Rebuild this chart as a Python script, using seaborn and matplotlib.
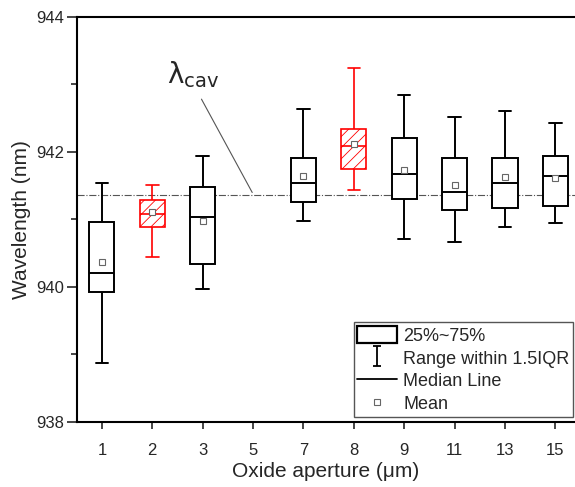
import numpy as np
import pandas as pd
import seaborn as sns
import matplotlib.pyplot as plt
from matplotlib.patches import Patch
from matplotlib.lines import Line2D
from matplotlib.path import Path

# aperture axis order (5 um has no data)
apertures = ['1', '2', '3', '5', '7', '8', '9', '11', '13', '15']
measured = ['1', '2', '3', '7', '8', '9', '11', '13', '15']
red_apertures = ['2', '8']

# box statistics (nm)
whisker_low = [938.87, 940.44, 939.96, 940.98, 941.44, 940.70, 940.67, 940.88, 940.95]
q1 = [939.92, 940.89, 940.34, 941.26, 941.74, 941.30, 941.14, 941.17, 941.20]
median = [940.20, 941.08, 941.04, 941.54, 942.08, 941.67, 941.40, 941.54, 941.64]
q3 = [940.96, 941.28, 941.48, 941.90, 942.34, 942.21, 941.90, 941.90, 941.93]
whisker_high = [941.54, 941.50, 941.94, 942.63, 943.24, 942.84, 942.51, 942.60, 942.43]
mean = [940.37, 941.10, 940.97, 941.64, 942.11, 941.73, 941.51, 941.62, 941.61]

lambda_cav = 941.36

sns.set_theme(style='ticks')
plt.rcParams['font.family'] = ['Liberation Sans', 'DejaVu Sans']
plt.rcParams['hatch.linewidth'] = 0.6
plt.rcParams['hatch.color'] = 'red'

# long form: the five summary values per aperture
df = pd.DataFrame({
    'aperture': np.repeat(measured, 5),
    'wavelength': np.column_stack([whisker_low, q1, median, q3, whisker_high]).ravel(),
})
df_mean = pd.DataFrame({'aperture': measured, 'wavelength': mean})

fig = plt.figure(figsize=(5.75, 4.87), dpi=100)
ax = fig.add_axes([0.1334, 0.134, 0.8666, 0.8317])

black = df[~df['aperture'].isin(red_apertures)]
red = df[df['aperture'].isin(red_apertures)]

sns.boxplot(data=black, x='aperture', y='wavelength', order=apertures, whis=(0, 100),
            width=0.5, color='white', linecolor='black', linewidth=1.4, showfliers=False, ax=ax)
n_before = len(ax.patches)
sns.boxplot(data=red, x='aperture', y='wavelength', order=apertures, whis=(0, 100),
            width=0.5, color='white', linecolor='red', linewidth=1.2, showfliers=False, ax=ax)
for p in ax.patches[n_before:]:
    p.set_facecolor('none')
    p.set_edgecolor('red')
    p.set_hatch('///')

sns.pointplot(data=df_mean, x='aperture', y='wavelength', order=apertures, linestyle='none',
              marker='s', markersize=4, markerfacecolor='white', markeredgecolor='#666666',
              markeredgewidth=0.8, errorbar=None, zorder=5, ax=ax)

ax.axhline(lambda_cav, color='#555555', ls='-.', lw=0.8, zorder=0)
ax.annotate('', xy=(3.01, lambda_cav), xytext=(1.95, 942.815),
            arrowprops=dict(arrowstyle='-', color='#555555', lw=0.8))
ax.text(1.29, 943.02, r'$\mathrm{\lambda}_{\mathrm{cav}}$', fontsize=20, ha='left', va='baseline')

ax.set_xlim(-0.5, 9.39)
ax.set_ylim(938, 944)
ax.set_yticks([938, 940, 942, 944])
ax.set_yticks([939, 941, 943], minor=True)
ax.tick_params(axis='y', which='major', direction='out', length=7, width=1.2, pad=2, labelsize=12)
ax.tick_params(axis='y', which='minor', direction='out', length=4.5, width=1.2)
ax.tick_params(axis='x', direction='out', length=5, width=1.2, pad=10, labelsize=12)
for side in ['left', 'bottom', 'top']:
    ax.spines[side].set_visible(True)
    ax.spines[side].set_linewidth(1.5)
    ax.spines[side].set_color('black')
ax.spines['right'].set_visible(False)

ax.set_xlabel('Oxide aperture (\u03bcm)', fontsize=15, labelpad=3)
ax.set_ylabel('Wavelength (nm)', fontsize=15, labelpad=4)

ibeam = Path([(-0.4, 1), (0.4, 1), (0, 1), (0, -1), (-0.4, -1), (0.4, -1)],
             [Path.MOVETO, Path.LINETO, Path.MOVETO, Path.LINETO, Path.MOVETO, Path.LINETO])
handles = [
    Patch(facecolor='white', edgecolor='black', linewidth=1.6),
    Line2D([], [], color='black', marker=ibeam, markersize=15, linestyle='none',
           markerfacecolor='none', markeredgewidth=1.3),
    Line2D([], [], color='black', lw=1.3),
    Line2D([], [], linestyle='none', marker='s', markersize=4, markerfacecolor='white',
           markeredgecolor='#666666', markeredgewidth=0.8),
]
labels = ['25%~75%', 'Range within 1.5IQR', 'Median Line', 'Mean']
leg = ax.legend(handles, labels, loc='lower right', bbox_to_anchor=(0.9966, 0.0123),
                borderaxespad=0, fontsize=13, handlelength=2.2, handleheight=1.1,
                handletextpad=0.35, labelspacing=0.22, borderpad=0.2, fancybox=False,
                framealpha=1, edgecolor='#555555')
leg.get_frame().set_linewidth(1.0)

fig.savefig('out.png', dpi=100)
